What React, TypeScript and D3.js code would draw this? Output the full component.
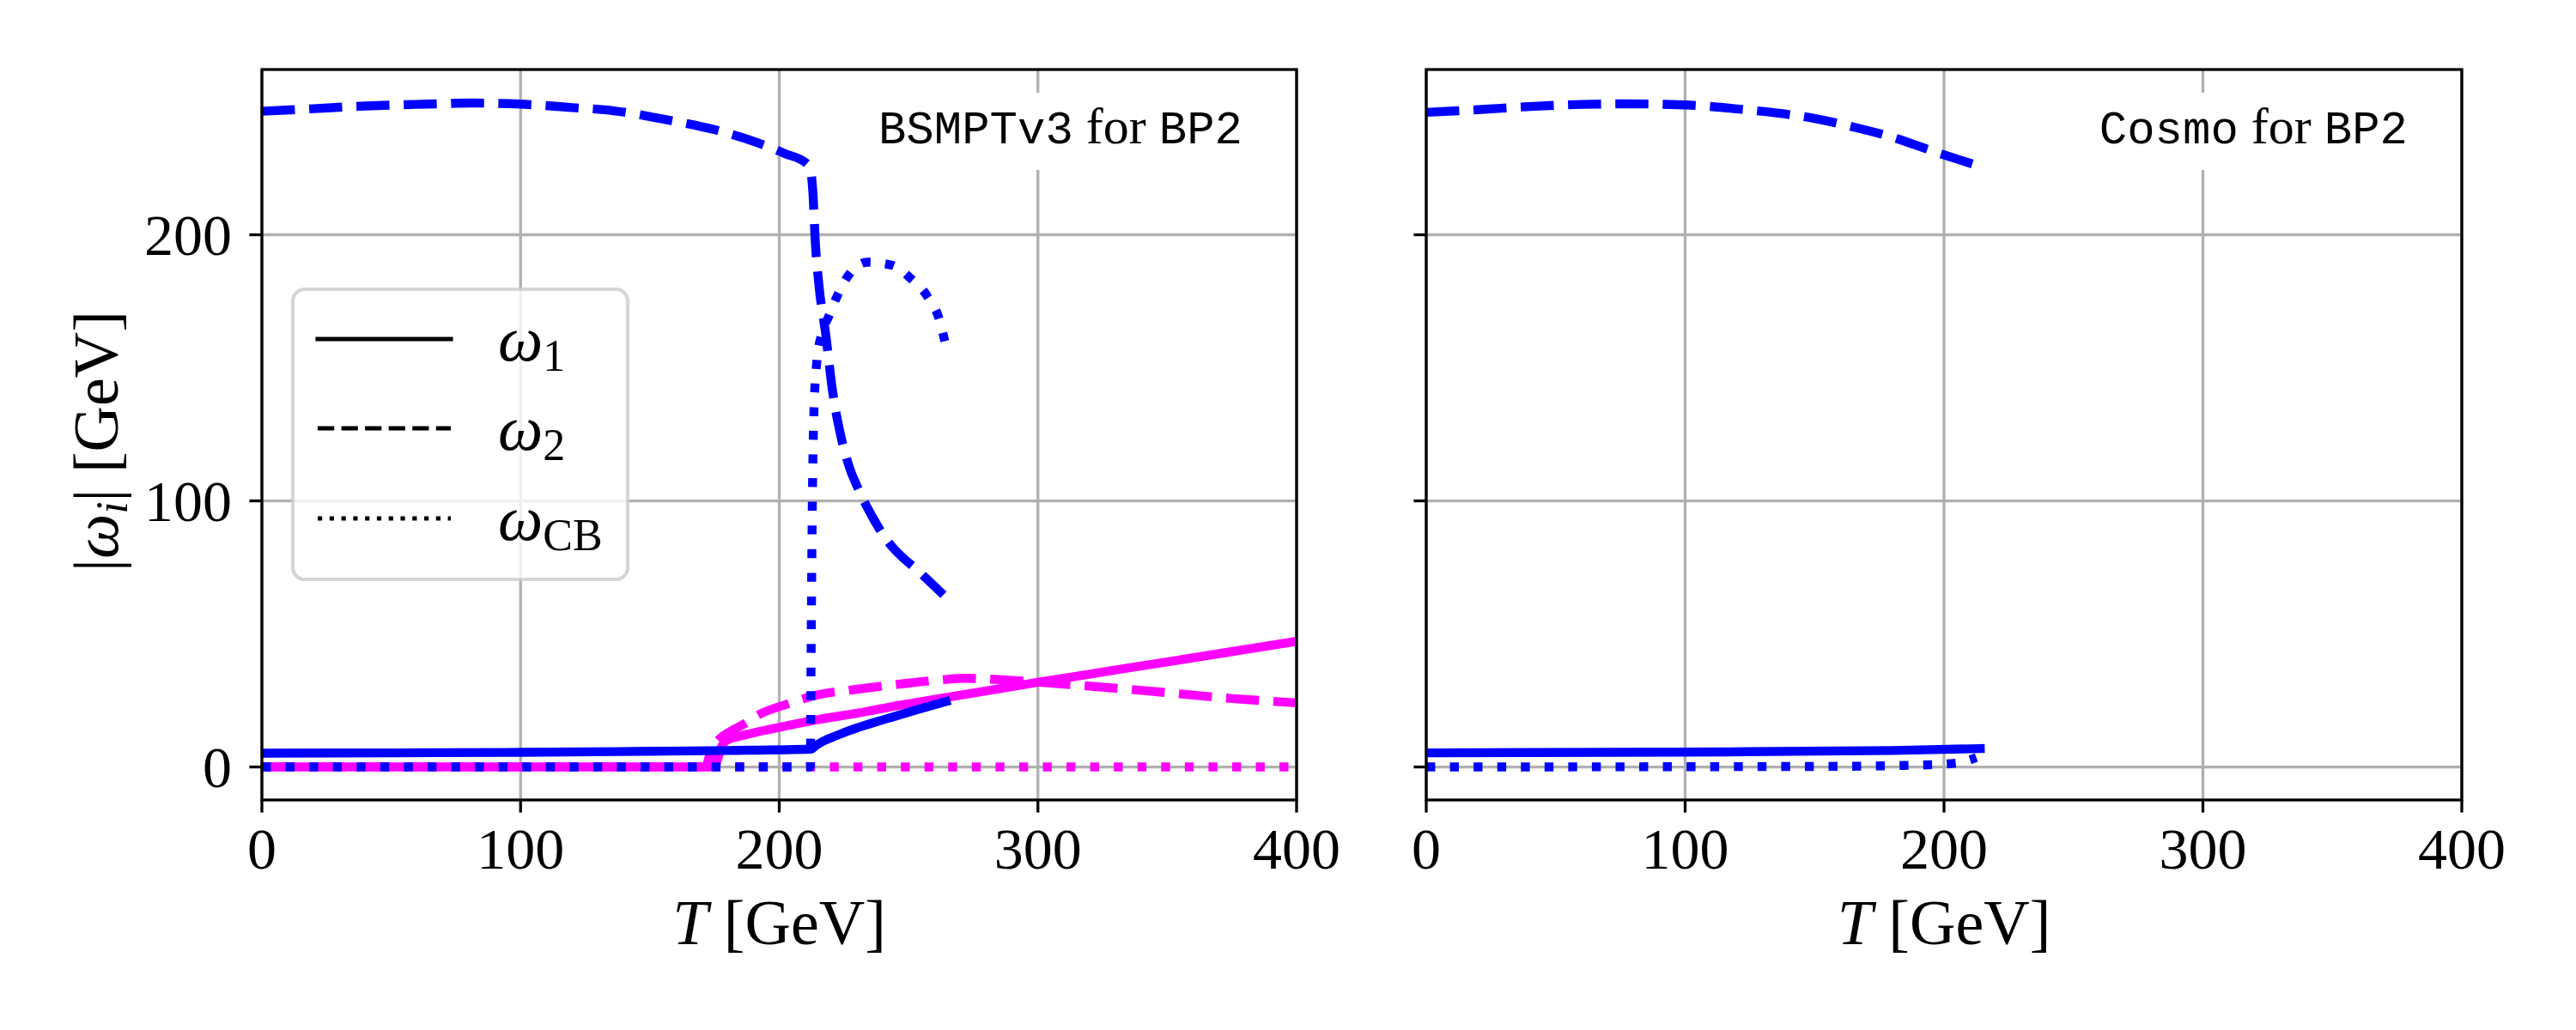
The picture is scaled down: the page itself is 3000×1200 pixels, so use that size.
import React from 'react';
import * as d3 from 'd3';

type Pt = [number, number];

// ---------- data ----------
const T_TICKS = [0, 100, 200, 300, 400];
const Y_TICKS = [0, 100, 200];
const T_DOMAIN: [number, number] = [0, 400];
const Y_DOMAIN: [number, number] = [-12.4, 262.1];

// BSMPTv3 panel — blue set
const bsmptBlueW1: Pt[] = [
  [0, 5.2], [50, 5.3], [100, 5.5], [150, 5.9], [180, 6.2], [212.4, 6.7],
  [214, 7.9], [217, 9.7], [221.9, 11.7], [226, 13.3], [230.7, 14.9], [241.8, 18.2],
  [252.8, 21.4], [264.5, 24.6],
];
const bsmptBlueW2: Pt[] = [
  [0, 246.4], [20, 247.4], [40, 248.4], [64, 249.1], [81, 249.5], [100, 249.1],
  [120, 247.8], [136, 246.6], [155, 243.5], [175, 239.5], [191, 234.8], [202, 230.6],
  [211, 226.5], [212.3, 223], [213, 216], [213.9, 198], [215.4, 180.6], [218, 162.4],
  [220.5, 142], [223.9, 124], [227, 113], [230.8, 104], [236, 94], [243, 83.5],
  [248, 78.5], [253, 74.3], [258, 69.8], [263.5, 64.7],
];
const bsmptBlueWCB: Pt[] = [
  [0, 0], [100, 0], [212, 0], [212.3, 40], [212.7, 90], [213.3, 130], [214.5, 152],
  [216.5, 163], [219, 169], [222.4, 177], [226.8, 184.8], [234, 189.7], [243.4, 188.6],
  [250.6, 183.8], [257.3, 176.8], [261.7, 168.7], [264, 160],
];
// BSMPTv3 panel — magenta set
const bsmptMagW1: Pt[] = [
  [0, 0], [100, 0], [175, 0], [176.5, 4], [178, 8.2], [180, 10.2], [185, 11.6], [190, 12.8],
  [200, 14.9], [215, 17.8], [230.7, 20.3], [247, 23.3], [264, 26], [300, 31.8],
  [350, 39.5], [400, 47.2],
];
const bsmptMagW2: Pt[] = [
  [0, 0], [100, 0], [171.5, 0], [173, 4], [175, 8], [177, 10.6], [181, 13.3], [186.5, 16.2],
  [192, 19.6], [203, 23.6], [214, 26.9], [230.7, 29.3], [247, 31.2], [262, 32.7],
  [272, 33.3], [286, 32.8], [308, 31.3], [341, 28.7], [374, 25.8], [400, 24.1],
];
const bsmptMagWCB: Pt[] = [[0, 0], [200, 0], [400, 0]];

// Cosmo panel — blue set
const cosmoBlueW1: Pt[] = [[0, 5.3], [100, 5.6], [180, 6.2], [214, 6.9]];
const cosmoBlueW2: Pt[] = [
  [0, 246], [20, 247], [40, 248.2], [60, 249], [77, 249.2], [100, 248.8], [120, 247.3],
  [151, 243.5], [165, 240.5], [179.6, 236.8], [196.7, 231.1], [211, 226.6],
];
const cosmoBlueWCB: Pt[] = [[0, 0], [150, 0.2], [190, 0.7], [205, 1.5], [212.5, 3.5]];

const PANEL_CODES = ['BSMPTv3', 'Cosmo'];
const PANEL_BP = 'BP2';

// ---------- style / layout ----------
const W = 3000, H = 1200;
const TOP = 81, BOTTOM = 932;
const PANELS = [
  { x0: 305, x1: 1510 },
  { x0: 1661, x1: 2867 },
];
const BLUE = '#0000ff';
const MAGENTA = '#ff00ff';
const LW = 10.4;
const LLW = 5.2;
const SERIF = "'Liberation Serif', 'Times New Roman', serif";
const MONO = "'Liberation Mono', 'DejaVu Sans Mono', monospace";
const GRID = '#b0b0b0';
const SPINE_W = 3.3;
const TICK_FS = 68;
const LABEL_FS = 74;

const dash = (style: string, lw: number) =>
  style === 'dashed' ? `${3.7 * lw},${1.6 * lw}` : style === 'dotted' ? `${lw},${1.65 * lw}` : undefined;

const yScale = d3.scaleLinear().domain(Y_DOMAIN).range([BOTTOM, TOP]);

type Series = { data: Pt[]; color: string; style: string };

const panelSeries: Series[][] = [
  [
    { data: bsmptMagW1, color: MAGENTA, style: 'solid' },
    { data: bsmptMagW2, color: MAGENTA, style: 'dashed' },
    { data: bsmptMagWCB, color: MAGENTA, style: 'dotted' },
    { data: bsmptBlueW1, color: BLUE, style: 'solid' },
    { data: bsmptBlueW2, color: BLUE, style: 'dashed' },
    { data: bsmptBlueWCB, color: BLUE, style: 'dotted' },
  ],
  [
    { data: cosmoBlueW1, color: BLUE, style: 'solid' },
    { data: cosmoBlueW2, color: BLUE, style: 'dashed' },
    { data: cosmoBlueWCB, color: BLUE, style: 'dotted' },
  ],
];

function Panel({ idx }: { idx: number }) {
  const { x0, x1 } = PANELS[idx];
  const x = d3.scaleLinear().domain(T_DOMAIN).range([x0, x1]);
  const line = d3
    .line<Pt>()
    .x((d) => x(d[0]))
    .y((d) => yScale(d[1]))
    .curve(d3.curveMonotoneX);
  const clipId = `clip${idx}`;
  const annRight = x1 - 63;
  const annWidth = idx === 0 ? 432 : 362;
  return (
    <g>
      <defs>
        <clipPath id={clipId}>
          <rect x={x0} y={TOP} width={x1 - x0} height={BOTTOM - TOP} />
        </clipPath>
      </defs>
      {/* grid */}
      {T_TICKS.map((t) => (
        <line key={'gx' + t} x1={x(t)} x2={x(t)} y1={TOP} y2={BOTTOM} stroke={GRID} strokeWidth={3.3} />
      ))}
      {Y_TICKS.map((v) => (
        <line key={'gy' + v} x1={x0} x2={x1} y1={yScale(v)} y2={yScale(v)} stroke={GRID} strokeWidth={3.3} />
      ))}
      {/* data lines */}
      <g clipPath={`url(#${clipId})`}>
        {panelSeries[idx].map((s, i) => (
          <path
            key={i}
            d={line(s.data) || ''}
            fill="none"
            stroke={s.color}
            strokeWidth={LW}
            strokeDasharray={dash(s.style, LW)}
            strokeLinecap={s.style === 'solid' ? 'square' : 'butt'}
            strokeLinejoin="round"
          />
        ))}
      </g>
      {/* annotation */}
      <rect x={annRight - annWidth - 18} y={108} width={annWidth + 36} height={90} fill="#ffffff" />
      <text x={annRight} y={167} textAnchor="end" fontSize={60} fontFamily={SERIF} fill="#000">
        <tspan fontFamily={MONO} fontSize={54}>{PANEL_CODES[idx]}</tspan>
        <tspan> for </tspan>
        <tspan fontFamily={MONO} fontSize={54}>{PANEL_BP}</tspan>
      </text>
      {/* spines */}
      <rect x={x0} y={TOP} width={x1 - x0} height={BOTTOM - TOP} fill="none" stroke="#000" strokeWidth={SPINE_W} />
      {/* ticks */}
      {T_TICKS.map((t) => (
        <g key={'tx' + t}>
          <line x1={x(t)} x2={x(t)} y1={BOTTOM} y2={BOTTOM + 14.6} stroke="#000" strokeWidth={SPINE_W} />
          <text x={x(t)} y={1012} textAnchor="middle" fontSize={TICK_FS} fontFamily={SERIF} fill="#000">
            {t}
          </text>
        </g>
      ))}
      {Y_TICKS.map((v) => (
        <g key={'ty' + v}>
          <line x1={x0 - 14.6} x2={x0} y1={yScale(v)} y2={yScale(v)} stroke="#000" strokeWidth={SPINE_W} />
          {idx === 0 && (
            <text x={270} y={yScale(v) + 23} textAnchor="end" fontSize={TICK_FS} fontFamily={SERIF} fill="#000">
              {v}
            </text>
          )}
        </g>
      ))}
      {/* x label */}
      <text x={(x0 + x1) / 2} y={1100} textAnchor="middle" fontSize={LABEL_FS} fontFamily={SERIF} fill="#000">
        <tspan fontStyle="italic">T</tspan>
        <tspan> [GeV]</tspan>
      </text>
    </g>
  );
}

const LEGEND_ITEMS = [
  { style: 'solid', sub: '1' },
  { style: 'dashed', sub: '2' },
  { style: 'dotted', sub: 'CB' },
];

function Legend() {
  const lx = 341, ly = 337, lw = 390, lh = 338;
  const rowY = [395, 499, 604];
  return (
    <g>
      <rect
        x={lx}
        y={ly}
        width={lw}
        height={lh}
        rx={14}
        ry={14}
        fill="#ffffff"
        fillOpacity={0.8}
        stroke="#cccccc"
        strokeOpacity={0.8}
        strokeWidth={4.2}
      />
      {LEGEND_ITEMS.map((it, i) => (
        <g key={i}>
          <line
            x1={370}
            x2={525}
            y1={rowY[i]}
            y2={rowY[i]}
            stroke="#000"
            strokeWidth={LLW}
            strokeDasharray={dash(it.style, LLW)}
            strokeLinecap={it.style === 'solid' ? 'square' : 'butt'}
          />
          <text x={580} y={rowY[i] + 25} fontSize={LABEL_FS} fontFamily={SERIF} fill="#000">
            <tspan fontStyle="italic">ω</tspan>
            <tspan fontSize={52} dy={12}>{it.sub}</tspan>
          </text>
        </g>
      ))}
    </g>
  );
}

export default function App() {
  return (
    <svg
      width={W}
      height={H}
      viewBox={`0 0 ${W} ${H}`}
      style={{ position: 'absolute', left: 0, top: 0, display: 'block', background: '#fff' }}
    >
      <rect x={0} y={0} width={W} height={H} fill="#fff" />
      <Panel idx={0} />
      <Panel idx={1} />
      <Legend />
      {/* y label */}
      <text transform="translate(137,514) rotate(-90)" textAnchor="middle" fontSize={LABEL_FS} fontFamily={SERIF} fill="#000">
        <tspan>|</tspan>
        <tspan fontStyle="italic">ω</tspan>
        <tspan fontStyle="italic" fontSize={52} dy={11}>i</tspan>
        <tspan dy={-11}>| [GeV]</tspan>
      </text>
    </svg>
  );
}
